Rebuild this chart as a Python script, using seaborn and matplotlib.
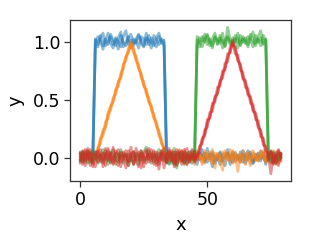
import numpy as np
import pandas as pd
import matplotlib
matplotlib.use('Agg')
import matplotlib.pyplot as plt
import seaborn as sns

# x positions shared by every trace
x = list(range(80))

# blue: three noisy copies of a box pulse
blue_1 = [0.02, -0.03, 0.05, -0.01, 0.04, -0.02] + \
    [1.03, 0.98, 1.06, 0.97, 1.02, 1.08, 0.99, 0.95, 1.04, 1.01, 0.96, 1.05, 1.10, 0.98,
     1.02, 0.97, 1.03, 1.07, 0.99, 0.96, 1.04, 1.01, 0.95, 1.06, 1.02, 0.98, 1.03, 1.00] + \
    [-0.04, 0.03, 0.01, -0.06, 0.05, 0.02, -0.02, 0.04, -0.05, 0.00, 0.06, -0.03, 0.02, -0.01,
     0.07, -0.04, 0.01, 0.03, -0.08, 0.02, -0.02, 0.05, -0.03, 0.01, 0.04, -0.06, 0.03, 0.00,
     -0.02, 0.05, -0.04, 0.02, 0.06, -0.01, -0.05, 0.03, 0.01, -0.03, 0.04, -0.02, 0.00, 0.05,
     -0.04, 0.02, -0.01, 0.03]
blue_2 = [-0.03, 0.04, 0.00, 0.06, -0.02, 0.03] + \
    [0.99, 1.05, 1.01, 0.94, 1.03, 0.98, 1.07, 1.02, 0.97, 1.04, 1.09, 0.96, 1.00, 1.05,
     0.95, 1.03, 0.99, 1.06, 1.02, 0.97, 1.08, 0.98, 1.04, 1.00, 0.96, 1.05, 1.01, 0.97] + \
    [0.02, -0.05, 0.04, 0.01, -0.03, 0.06, -0.01, -0.04, 0.03, 0.05, -0.02, 0.00, -0.06, 0.04,
     0.02, -0.03, 0.08, -0.01, 0.03, -0.05, 0.01, 0.04, -0.02, -0.07, 0.03, 0.00, 0.05, -0.03,
     0.02, -0.04, 0.06, 0.01, -0.02, 0.03, -0.05, 0.00, 0.04, -0.01, 0.02, -0.06, 0.03, 0.05,
     -0.02, 0.01, -0.03, 0.04]
blue_3 = [0.05, -0.01, -0.04, 0.02, 0.00, -0.03] + \
    [1.02, 0.96, 1.04, 1.08, 0.97, 1.01, 1.05, 0.98, 1.03, 0.94, 1.06, 1.00, 0.97, 1.04,
     1.07, 0.99, 1.02, 0.95, 1.05, 1.03, 0.98, 1.06, 1.00, 0.97, 1.04, 1.08, 0.99, 1.02] + \
    [-0.02, 0.05, 0.00, 0.03, -0.06, 0.01, 0.04, -0.03, 0.02, -0.01, -0.05, 0.06, 0.03, -0.02,
     0.00, 0.04, -0.04, 0.02, 0.05, -0.03, 0.01, -0.06, 0.03, 0.00, 0.07, -0.02, -0.04, 0.04,
     0.01, -0.01, 0.03, -0.05, 0.02, 0.05, -0.03, 0.00, -0.02, 0.06, 0.01, -0.04, 0.03, -0.01,
     0.02, -0.05, 0.04, 0.00]

# orange: triangle peaking at x=20
orange_1 = [0.03, -0.04, 0.01, 0.05, -0.02, 0.00] + \
    [0.02, 0.09, 0.12, 0.24, 0.27, 0.38, 0.41, 0.52, 0.55, 0.66, 0.70, 0.81, 0.84, 0.95, 0.99,
     0.91, 0.88, 0.77, 0.73, 0.62, 0.59, 0.48, 0.45, 0.34, 0.31, 0.19, 0.16, 0.05, 0.02] + \
    [-0.03, 0.04, 0.01, -0.05, 0.02, 0.06, -0.02, 0.00, 0.03, -0.04, 0.05, -0.01, 0.02, -0.06,
     0.04, 0.01, -0.03, 0.07, -0.02, 0.03, 0.00, -0.11, 0.04, 0.02, -0.01, 0.06, -0.04, 0.01,
     0.03, -0.02, -0.06, 0.05, 0.00, 0.02, -0.03, 0.04, -0.01, 0.06, -0.04, 0.01, 0.03, -0.02,
     0.05, -0.05, 0.02]
orange_2 = [-0.02, 0.05, 0.00, -0.04, 0.03, 0.01] + \
    [-0.01, 0.06, 0.16, 0.19, 0.31, 0.34, 0.45, 0.48, 0.59, 0.62, 0.73, 0.77, 0.88, 0.91, 1.01,
     0.95, 0.84, 0.81, 0.69, 0.66, 0.55, 0.52, 0.41, 0.38, 0.27, 0.23, 0.12, 0.09, -0.01] + \
    [0.04, -0.02, 0.05, 0.00, -0.04, 0.03, 0.01, -0.06, 0.02, 0.04, -0.03, 0.06, -0.01, 0.00,
     -0.05, 0.03, 0.05, -0.02, -0.09, 0.04, 0.01, -0.03, 0.06, 0.00, -0.04, 0.02, 0.05, -0.12,
     0.03, 0.01, -0.02, 0.04, -0.05, 0.06, 0.00, -0.03, 0.02, 0.05, -0.04, 0.01, -0.01, 0.04,
     -0.06, 0.03, 0.00]
orange_3 = [0.01, -0.03, 0.06, -0.01, 0.02, -0.05] + \
    [0.03, 0.05, 0.17, 0.22, 0.26, 0.39, 0.44, 0.49, 0.58, 0.65, 0.69, 0.80, 0.87, 0.92, 0.98,
     0.94, 0.85, 0.78, 0.72, 0.63, 0.58, 0.49, 0.44, 0.35, 0.29, 0.22, 0.13, 0.08, 0.01] + \
    [-0.01, 0.03, -0.05, 0.02, 0.07, -0.03, 0.00, 0.04, -0.02, 0.05, -0.06, 0.01, 0.03, -0.04,
     0.06, -0.01, 0.02, -0.05, 0.04, 0.00, -0.03, 0.05, 0.01, -0.02, 0.07, -0.05, 0.03, 0.00,
     -0.04, 0.06, 0.02, -0.01, -0.07, 0.04, 0.01, -0.03, 0.05, 0.00, -0.02, 0.03, -0.05, 0.06,
     0.01, -0.04, 0.02]

# green: box pulse on the right
green_1 = [0.04, -0.02, 0.01, 0.06, -0.04, 0.00, 0.03, -0.05, 0.02, 0.07, -0.01, -0.03, 0.05,
           0.01, -0.06, 0.03, 0.00, 0.04, -0.02, -0.07, 0.02, 0.05, -0.03, 0.01, 0.06, -0.04,
           0.00, 0.03, -0.01, 0.05, -0.05, 0.02, 0.04, -0.02, 0.01, -0.06, 0.03, 0.08, -0.03,
           0.00, 0.05, -0.04, 0.02, -0.01, 0.04, 0.01] + \
    [0.97, 1.04, 1.01, 1.07, 0.98, 1.03, 0.95, 1.05, 1.02, 0.99, 1.08, 0.96, 1.04, 1.00,
     0.97, 1.06, 1.02, 0.98, 1.05, 1.01, 0.96, 1.04, 1.09, 0.99, 1.03, 0.97, 1.06, 1.01] + \
    [0.02, -0.04, 0.05, 0.00, -0.02, 0.03]
green_2 = [-0.03, 0.05, 0.00, -0.05, 0.03, 0.06, -0.02, 0.01, -0.04, 0.04, 0.02, -0.06, 0.03,
           0.07, -0.01, -0.04, 0.05, 0.01, 0.03, -0.03, 0.00, -0.06, 0.04, 0.02, -0.02, 0.05,
           0.09, -0.01, -0.05, 0.03, 0.00, -0.03, 0.06, 0.01, -0.04, 0.02, 0.04, -0.02, -0.09,
           0.03, -0.01, 0.05, 0.00, -0.04, 0.02, -0.02] + \
    [1.02, 0.96, 1.05, 1.00, 1.06, 0.97, 1.03, 1.08, 0.98, 1.04, 1.01, 0.97, 1.13, 1.02,
     0.99, 1.03, 0.95, 1.06, 1.00, 1.04, 0.98, 1.07, 1.01, 0.97, 1.05, 1.10, 0.99, 1.03] + \
    [-0.03, 0.04, 0.01, -0.05, 0.03, 0.00]
green_3 = [0.01, -0.04, 0.04, 0.02, -0.01, -0.05, 0.05, 0.00, 0.03, -0.03, 0.06, 0.02, -0.04,
           0.00, 0.04, -0.02, 0.07, -0.05, 0.01, 0.03, -0.03, 0.05, 0.00, -0.06, 0.04, 0.01,
           -0.02, 0.06, 0.03, -0.04, 0.02, 0.07, -0.01, -0.03, 0.05, 0.00, -0.05, 0.03, 0.01,
           0.04, -0.02, -0.06, 0.03, 0.05, 0.00, -0.03] + \
    [1.05, 1.00, 0.96, 1.03, 1.07, 1.01, 0.97, 1.04, 0.99, 1.06, 0.95, 1.02, 1.05, 0.98,
     1.04, 1.00, 1.08, 0.97, 1.03, 0.99, 1.05, 1.02, 0.96, 1.06, 1.00, 1.04, 0.98, 1.02] + \
    [0.04, -0.02, -0.05, 0.02, 0.05, -0.01]

# red: triangle peaking at x=60
red_1 = [-0.05, 0.06, -0.02, 0.08, -0.07, 0.03, 0.05, -0.04, 0.07, -0.08, 0.02, 0.06, -0.05,
         0.09, -0.03, -0.07, 0.04, 0.01, -0.09, 0.06, 0.02, -0.05, 0.08, -0.02, 0.04, -0.08,
         0.05, -0.01, 0.07, -0.06, 0.03, -0.10, 0.06, 0.02, -0.04, 0.08, -0.03, 0.05, -0.07,
         0.01, 0.06, -0.05, 0.03, -0.02, 0.07, -0.04] + \
    [0.03, 0.04, 0.17, 0.19, 0.33, 0.34, 0.47, 0.48, 0.61, 0.62, 0.75, 0.76, 0.90, 0.91, 1.02,
     0.90, 0.89, 0.76, 0.74, 0.61, 0.60, 0.47, 0.46, 0.33, 0.32, 0.18, 0.17, 0.04, -0.02] + \
    [0.05, -0.06, 0.03, 0.07, -0.03]
red_2 = [0.04, -0.06, 0.07, -0.01, 0.05, -0.08, 0.02, 0.06, -0.03, 0.04, -0.07, 0.08, 0.00,
         -0.05, 0.06, 0.03, -0.08, 0.05, 0.02, -0.04, 0.09, -0.06, 0.01, 0.05, -0.09, 0.03,
         0.07, -0.04, 0.02, 0.06, -0.07, 0.04, -0.02, 0.08, -0.05, 0.01, 0.06, -0.08, 0.03,
         0.05, -0.03, 0.07, -0.06, 0.02, -0.01, 0.05] + \
    [-0.02, 0.10, 0.12, 0.24, 0.26, 0.39, 0.40, 0.53, 0.55, 0.67, 0.69, 0.82, 0.83, 0.96, 0.98,
     0.96, 0.84, 0.81, 0.68, 0.67, 0.54, 0.53, 0.40, 0.39, 0.26, 0.24, 0.11, 0.10, 0.02] + \
    [-0.14, 0.04, -0.05, 0.06, 0.01]
red_3 = [-0.02, 0.05, -0.07, 0.03, 0.07, -0.04, -0.08, 0.05, 0.01, -0.05, 0.08, -0.02, 0.04,
         -0.06, 0.02, 0.07, -0.04, -0.01, 0.06, -0.07, 0.03, 0.05, -0.03, -0.08, 0.06, 0.01,
         -0.05, 0.08, -0.03, 0.02, 0.05, -0.06, 0.04, -0.09, 0.03, 0.06, -0.02, -0.05, 0.07,
         0.00, -0.06, 0.04, 0.08, -0.04, 0.03, -0.02] + \
    [0.01, 0.08, 0.15, 0.20, 0.30, 0.35, 0.44, 0.51, 0.56, 0.65, 0.72, 0.78, 0.87, 0.92, 1.00,
     0.94, 0.85, 0.80, 0.70, 0.65, 0.56, 0.51, 0.42, 0.37, 0.28, 0.22, 0.15, 0.06, 0.03] + \
    [0.06, -0.04, 0.02, -0.07, 0.04]

traces = {
    'a': [blue_1, blue_2, blue_3],
    'b': [orange_1, orange_2, orange_3],
    'c': [green_1, green_2, green_3],
    'd': [red_1, red_2, red_3],
}

rows = []
for sig, copies in traces.items():
    for i, ys in enumerate(copies):
        assert len(ys) == len(x)
        for xi, yi in zip(x, ys):
            rows.append({'x': xi, 'y': yi, 'signal': sig, 'copy': i})
df = pd.DataFrame(rows)

sns.set_style('ticks')
plt.rcParams['font.family'] = ['DejaVu Sans']

fig = plt.figure(figsize=(3.1, 2.44), dpi=100)
ax = fig.add_axes([0.226, 0.258, 0.713, 0.66])
sns.lineplot(data=df, x='x', y='y', hue='signal', units='copy', estimator=None,
             alpha=0.5, linewidth=2, legend=False, ax=ax)

ax.set_xticks([0, 50])
ax.set_yticks([0.0, 0.5, 1.0])
ax.tick_params(labelsize=12.5, length=4, width=0.9, pad=3, color='.2', labelcolor='black')
ax.set_xlabel('x', fontsize=13, color='black', labelpad=5)
ax.set_ylabel('y', fontsize=13, color='black', labelpad=6)
for s in ax.spines.values():
    s.set_linewidth(0.9)
    s.set_color('.2')

fig.savefig('out.png', dpi=100)
